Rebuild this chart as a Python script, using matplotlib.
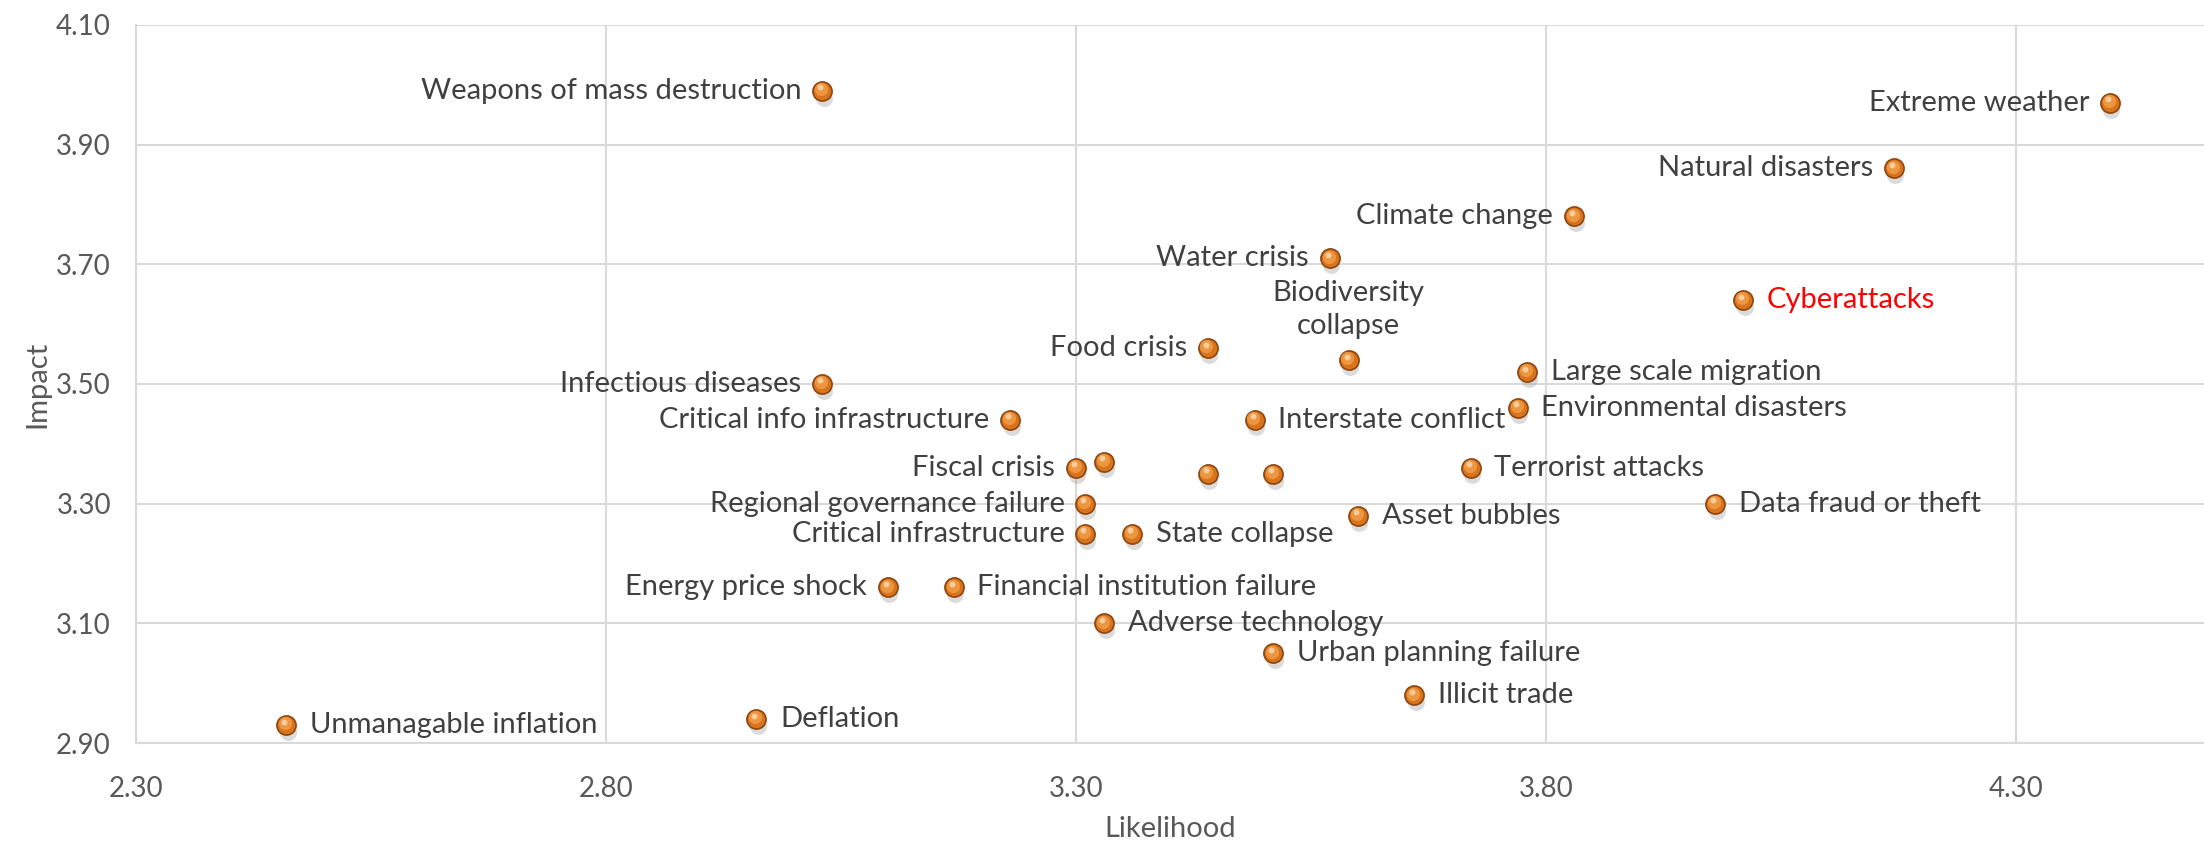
import numpy as np
import matplotlib
matplotlib.use("Agg")
import matplotlib.pyplot as plt
from matplotlib.transforms import offset_copy

plt.rcParams['font.family'] = ['Lato', 'DejaVu Sans']

# risk data: likelihood (x), impact (y)
risks = ['Weapons of mass destruction', 'Extreme weather', 'Natural disasters',
         'Climate change', 'Water crisis', 'Cyberattacks', 'Biodiversity\ncollapse',
         'Food crisis', 'Infectious diseases', 'Large scale migration',
         'Environmental disasters', 'Critical info infrastructure', 'Interstate conflict',
         'Fiscal crisis', '', '', '', 'Terrorist attacks', 'Regional governance failure',
         'Data fraud or theft', 'Asset bubbles', 'Critical infrastructure', 'State collapse',
         'Energy price shock', 'Financial institution failure', 'Adverse technology',
         'Urban planning failure', 'Illicit trade', 'Unmanagable inflation', 'Deflation']
likelihood = [3.03, 4.40, 4.17, 3.83, 3.57, 4.01, 3.59, 3.44, 3.03, 3.78,
              3.77, 3.23, 3.49, 3.30, 3.33, 3.44, 3.51, 3.72, 3.31, 3.98,
              3.60, 3.31, 3.36, 3.10, 3.17, 3.33, 3.51, 3.66, 2.46, 2.96]
impact = [3.99, 3.97, 3.86, 3.78, 3.71, 3.64, 3.54, 3.56, 3.50, 3.52,
          3.46, 3.44, 3.44, 3.36, 3.37, 3.35, 3.35, 3.36, 3.30, 3.30,
          3.28, 3.25, 3.25, 3.16, 3.16, 3.10, 3.05, 2.98, 2.93, 2.94]
# where the label sits relative to its point
label_side = ['L', 'L', 'L', 'L', 'L', 'R', 'T', 'L', 'L', 'R',
              'R', 'L', 'R', 'L', '', '', '', 'R', 'L', 'R',
              'R', 'L', 'R', 'L', 'R', 'R', 'R', 'R', 'R', 'R']
highlight = 'Cyberattacks'

x_ticks = [2.30, 2.80, 3.30, 3.80, 4.30]
y_ticks = [2.90, 3.10, 3.30, 3.50, 3.70, 3.90, 4.10]

fig = plt.figure(figsize=(22.04, 8.42), dpi=100)
ax = fig.add_axes([0.0617, 0.1175, 0.9383, 0.853])

ax.set_xlim(2.30, 4.50)
ax.set_ylim(2.90, 4.10)
ax.set_xticks(x_ticks)
ax.set_yticks(y_ticks)
ax.set_xticklabels(['%.2f' % v for v in x_ticks])
ax.set_yticklabels(['%.2f' % v for v in y_ticks])
ax.grid(True, color='#D9D9D9', linewidth=1.5)
ax.set_axisbelow(True)
for s in ['top', 'right']:
    ax.spines[s].set_visible(False)
for s in ['left', 'bottom']:
    ax.spines[s].set_color('#D9D9D9')
    ax.spines[s].set_linewidth(1.5)
ax.tick_params(length=0, labelsize=20, labelcolor='#595959', pad=24)
ax.tick_params(axis='y', pad=18)
ax.set_xlabel('Likelihood', fontsize=21, color='#595959', labelpad=10)
ax.set_ylabel('Impact', fontsize=21, color='#595959', labelpad=4)

x = np.array(likelihood)
y = np.array(impact)

# shadow, body, highlight -> fake 3d ball
shadow = offset_copy(ax.transData, fig=fig, x=1.0, y=-5.0, units='points')
ax.scatter(x, y, s=150, color='#9a9a9a', alpha=0.35, linewidths=0,
           transform=shadow, zorder=2)
ax.scatter(x, y, s=190, color='#D8741C', edgecolors='#8E4510', linewidths=1.2, zorder=3)
hl1 = offset_copy(ax.transData, fig=fig, x=-0.8, y=1.2, units='points')
ax.scatter(x, y, s=90, color='#F09A45', linewidths=0, alpha=0.9, transform=hl1, zorder=4)
hl2 = offset_copy(ax.transData, fig=fig, x=-1.5, y=2.5, units='points')
ax.scatter(x, y, s=18, color='#FBD3A6', linewidths=0, alpha=0.9, transform=hl2, zorder=5)

for name, xi, yi, side in zip(risks, likelihood, impact, label_side):
    if not name:
        continue
    col = 'red' if name == highlight else '#404040'
    if side == 'L':
        ax.annotate(name, (xi, yi), xytext=(-15, 0), textcoords='offset points',
                    ha='right', va='center', fontsize=21, color=col)
    elif side == 'R':
        ax.annotate(name, (xi, yi), xytext=(17, 0), textcoords='offset points',
                    ha='left', va='center', fontsize=21, color=col)
    else:
        ax.annotate(name, (xi, yi), xytext=(0, 15), textcoords='offset points',
                    ha='center', va='bottom', fontsize=21, color=col,
                    linespacing=1.35)

fig.savefig('out.png', dpi=100)
